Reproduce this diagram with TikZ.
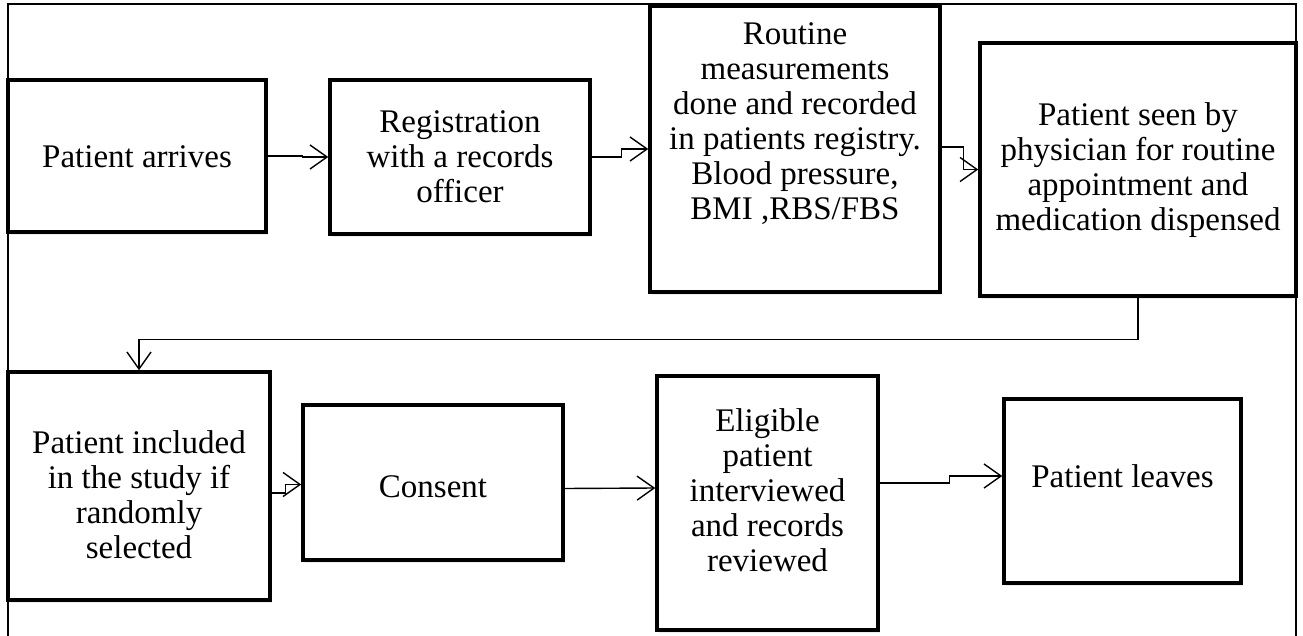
\documentclass[tikz,border=0pt]{standalone}
\usepackage{fontspec}
\setmainfont{Liberation Serif}
\usetikzlibrary{arrows.meta,calc,shadows}
\begin{document}
\begin{tikzpicture}[x=1pt,y=-1pt,
  box/.style={draw, line width=3.5pt, fill=white, inner sep=0pt,
    drop shadow={shadow xshift=1.5pt, shadow yshift=-3pt, opacity=0.15}},
  txt/.style={align=center, inner sep=0pt, font=\fontsize{33}{35}\selectfont},
  conn/.style={line width=1.4pt, -{Straight Barb[length=17pt,width=24pt,line width=1.4pt]}},
  frame/.style={line width=2pt}]
\useasboundingbox (0,0) rectangle (1303,636);
% outer frame (open at bottom)
\coordinate (fbl) at (8,660);
\coordinate (ftl) at (8,4);
\coordinate (ftr) at (1296,4);
\coordinate (fbr) at (1296,660);
\draw[frame] (fbl) -- (ftl) -- (ftr) -- (fbr);
% boxes
\node[box, minimum width=258pt, minimum height=152pt] (b1) at (137,156) {};
\node[box, minimum width=260pt, minimum height=154pt] (b2) at (460,157) {};
\node[box, minimum width=290pt, minimum height=286pt] (b3) at (795,149) {};
\node[box, minimum width=316pt, minimum height=253pt] (b4) at (1138,169.5) {};
\node[box, minimum width=262pt, minimum height=228pt] (b5) at (139,486) {};
\node[box, minimum width=260pt, minimum height=155pt] (b6) at (433,482.5) {};
\node[box, minimum width=221pt, minimum height=254pt] (b7) at (767.5,503) {};
\node[box, minimum width=237pt, minimum height=184pt] (b8) at (1122.5,491) {};
% texts
\node[txt] (t1) at (137,157) {Patient arrives};
\node[txt] (t2) at (460,157) {Registration\\with a records\\officer};
\node[txt] (t3) at (795,124) {Routine\\measurements\\done and recorded\\in patients registry.\\Blood pressure,\\BMI ,RBS/FBS};
\node[txt] (t4) at (1138,170) {Patient seen by\\physician for routine\\appointment and\\medication dispensed};
\node[txt] (t5) at (139,495) {Patient included\\in the study if\\randomly\\selected};
\node[txt] (t6) at (433,487) {Consent};
\node[txt] (t7) at (767.5,490) {Eligible\\patient\\interviewed\\and records\\reviewed};
\node[txt] (t8) at (1122.5,476) {Patient leaves};
% connectors
\draw[conn] (b1.east) -- ++(35,0) |- (b2.west);
\draw[conn] (b2.east) -- ++(30,0) |- (b3.west);
\draw[conn] ($(b3.east)+(0,-2)$) -- ++(22,0) |- (b4.west);
\draw[conn] (b4.south) -- ++(0,42) -| (b5.north);
\draw[conn] ($(b5.east)+(0,7)$) -- ++(14,0) |- ($(b6.west)+(0,2)$);
\draw[conn] ($(b6.east)+(0,6)$) -- ($(b7.west)+(0,-15)$);
\draw[conn] ($(b7.east)+(0,-20)$) -- ++(70,0) |- ($(b8.west)+(0,-15)$);
\end{tikzpicture}
\end{document}
